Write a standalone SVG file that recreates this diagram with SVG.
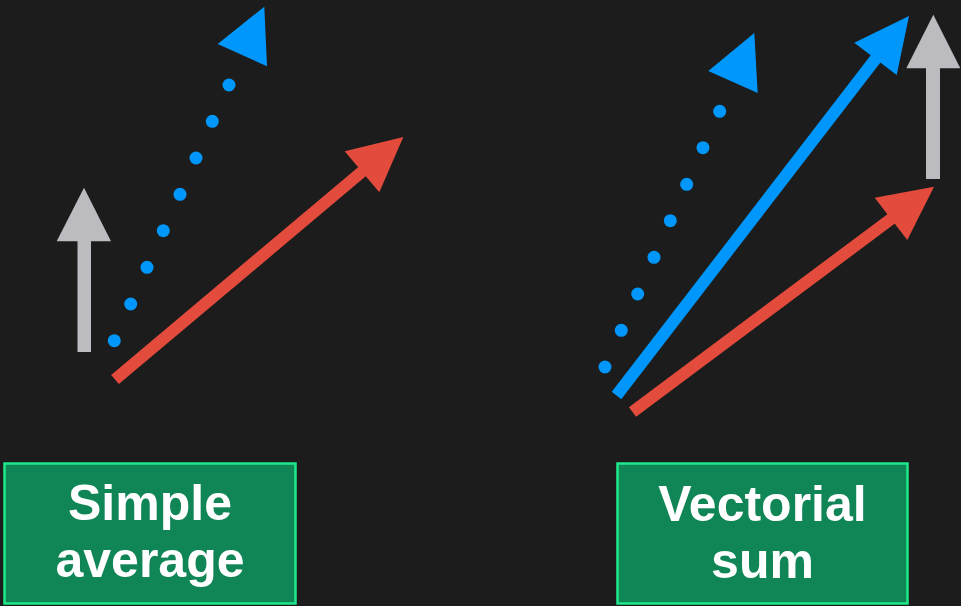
<svg xmlns="http://www.w3.org/2000/svg" width="961" height="606" viewBox="0 0 961 606">
<style>
.bg{fill:#1c1c1c}
.box{fill:#108556;stroke:#1ee88c;stroke-width:2.5}
.lbl{font-family:"Liberation Sans",Arial,sans-serif;font-weight:bold;font-size:50px;fill:#ffffff;text-anchor:middle}
.red{stroke:#e34b3d;stroke-width:12;fill:none}
.redh{fill:#e34b3d}
.blue{stroke:#0097fc;stroke-width:12;fill:none}
.blueh{fill:#0097fc}
.dot{fill:#0097fc}
.gray{fill:#bcbbc0}
</style>
<rect class="bg" x="0" y="0" width="961" height="606"/>
<g id="connectors">
  <g id="left-gray">
    <rect class="gray" x="77.5" y="240" width="13.5" height="112"/>
    <polygon class="gray" points="84,187.7 56.7,241.3 111,241.3"/>
  </g>
  <g id="left-dotted">
    <circle class="dot" cx="114.3" cy="340.7" r="6.5"/>
    <circle class="dot" cx="130.7" cy="304" r="6.5"/>
    <circle class="dot" cx="147" cy="267.3" r="6.5"/>
    <circle class="dot" cx="163.3" cy="230.7" r="6.5"/>
    <circle class="dot" cx="180" cy="194.3" r="6.5"/>
    <circle class="dot" cx="196" cy="158" r="6.5"/>
    <circle class="dot" cx="212.3" cy="121.3" r="6.5"/>
    <circle class="dot" cx="229" cy="85" r="6.5"/>
    <polygon class="blueh" points="217.7,44 264.3,6.7 267,66.3"/>
  </g>
  <g id="left-red">
    <line class="red" x1="115" y1="379.5" x2="364" y2="170"/>
    <polygon class="redh" points="403.3,137 344.7,151.3 379.3,192.3"/>
  </g>
  <g id="right-dotted">
    <circle class="dot" cx="605" cy="367" r="6.5"/>
    <circle class="dot" cx="621.3" cy="330.3" r="6.5"/>
    <circle class="dot" cx="637.7" cy="294" r="6.5"/>
    <circle class="dot" cx="654" cy="257.3" r="6.5"/>
    <circle class="dot" cx="670.3" cy="220.7" r="6.5"/>
    <circle class="dot" cx="686.7" cy="184.3" r="6.5"/>
    <circle class="dot" cx="703" cy="147.7" r="6.5"/>
    <circle class="dot" cx="719.7" cy="111.3" r="6.5"/>
    <polygon class="blueh" points="708.3,71 754.3,33 757.7,93"/>
  </g>
  <g id="right-blue">
    <line class="blue" x1="616.5" y1="395.5" x2="877" y2="57"/>
    <polygon class="blueh" points="909,16 854.3,42.7 896.7,75"/>
  </g>
  <g id="right-gray">
    <rect class="gray" x="926" y="67" width="14" height="112"/>
    <polygon class="gray" points="933.3,14.7 906.3,68.3 960.3,68.3"/>
  </g>
  <g id="right-red">
    <line class="red" x1="632.5" y1="412" x2="893" y2="217.5"/>
    <polygon class="redh" points="934,186.7 874.7,197.7 907.3,240"/>
  </g>
</g>
<g id="simple-average">
  <rect class="box" x="4.5" y="463.5" width="291" height="140"/>
  <text class="lbl" x="150" y="520">Simple</text>
  <text class="lbl" x="150" y="577">average</text>
</g>
<g id="vectorial-sum">
  <rect class="box" x="617.5" y="463.5" width="290" height="140"/>
  <text class="lbl" x="762.5" y="521">Vectorial</text>
  <text class="lbl" x="762.5" y="578">sum</text>
</g>
</svg>
